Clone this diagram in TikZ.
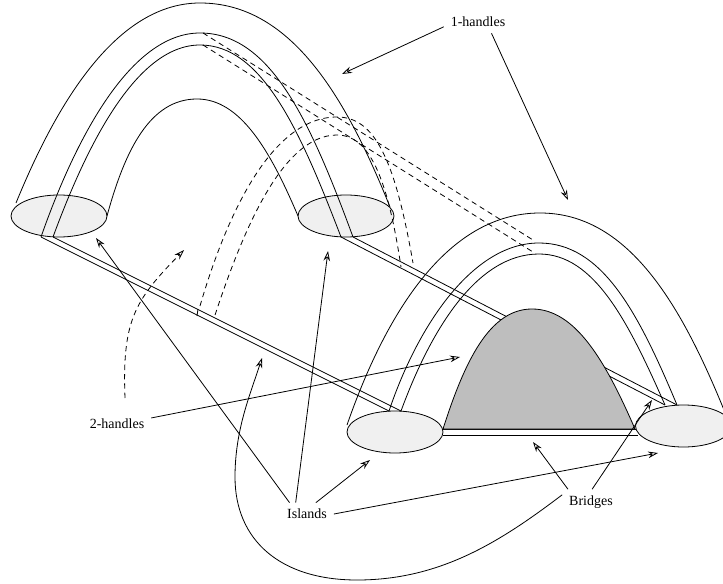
\documentclass[tikz,border=0pt]{standalone}
\usepackage{fontspec}
\setmainfont{Liberation Serif}
\usetikzlibrary{arrows.meta,shapes.geometric}
\definecolor{islandgray}{RGB}{240,240,240}
\definecolor{handlegray}{RGB}{190,190,190}

\begin{document}
\begin{tikzpicture}[
  x=0.75pt, y=-0.75pt, line width=0.6pt,
  font=\fontsize{10.5}{12}\selectfont,
  island/.style={draw, ellipse, fill=islandgray, inner sep=0pt, outer sep=0pt,
                 minimum width=72pt, minimum height=31.5pt},
  label/.style={inner xsep=5pt, inner ysep=4.5pt},
  hidden/.style={dashed, dash pattern=on 4pt off 3pt},
  arrow/.style={-{Stealth[open, length=7.5pt, width=5pt, inset=2.5pt]}}
]
\useasboundingbox (0,0) rectangle (723,584);

\node[island] (islandA) at (59,216) {};
\node[island] (islandB) at (346,216) {};
\node[island] (islandC) at (395,432) {};
\node[island] (islandD) at (683.5,426) {};

\draw (16,203) .. controls (50,120) and (110,3) .. (200,3)
  .. controls (290,3) and (345,95) .. (390,207);
\draw (107,216) .. controls (125,150) and (150,99) .. (197,99)
  .. controls (240,99) and (270,150) .. (298,216);
\draw (41,237) .. controls (75,140) and (130,33) .. (200,33)
  .. controls (270,33) and (310,120) .. (353,237);
\draw (53,237) .. controls (85,150) and (135,45) .. (200,45)
  .. controls (262,45) and (300,130) .. (341,237);

\draw (347,425) .. controls (380,330) and (440,213) .. (540,213)
  .. controls (627,213) and (680,302) .. (724,410);
\draw (389,411) .. controls (418,325) and (473,243) .. (539,243)
  .. controls (602,243) and (638,312) .. (677,405);
\draw (401,411) .. controls (430,332) and (476,254) .. (539,254)
  .. controls (594,254) and (628,321) .. (665,405);

\draw (41,237) -- (389,411);
\draw (53,237) -- (401,411);
\draw (341,237) -- (665,405);
\draw (353,237) -- (677,405);
\draw (443,429) -- (636,429);
\draw (443,435) -- (638,435);
\draw (198,309) -- (197,316);

\draw[hidden] (203,33) -- (533,240);
\draw[hidden] (203,45) -- (533,252);
\draw[hidden] (200,306) .. controls (225,220) and (270,117) .. (337,117)
  .. controls (375,117) and (395,160) .. (413,263);
\draw[hidden] (215,315) .. controls (240,240) and (280,135) .. (337,135)
  .. controls (370,135) and (388,180) .. (401,267);

\draw[fill=handlegray] (443,429) .. controls (465,360) and (490,309) .. (532,309)
  .. controls (575,309) and (605,360) .. (635,429) -- cycle;

\node[label] (oneHandles) at (478,22) {1-handles};
\node[label] (twoHandles) at (117,424) {2-handles};
\node[label] (islands) at (307,514) {Islands};
\node[label] (bridges) at (591,502) {Bridges};

\coordinate (tipOneA) at (342,74);
\coordinate (tipOneB) at (568,200);
\coordinate (tipTwoA) at (460,357);
\coordinate (tipTwoB) at (184,250);
\coordinate (tipIslA) at (96,238);
\coordinate (tipIslB) at (328,251);
\coordinate (tipIslC) at (370,460);
\coordinate (tipIslD) at (658,453);
\coordinate (tipBriA) at (533,442);
\coordinate (tipBriB) at (652,400);
\coordinate (tipBriC) at (262,358);

\draw[arrow] (oneHandles.188) -- (tipOneA);
\draw[arrow] (oneHandles.-40) -- (tipOneB);
\draw[arrow] (twoHandles.10) -- (tipTwoA);
\draw[arrow, hidden] (125,398) .. controls (122,320) and (135,300) .. (tipTwoB);
\foreach \a/\t in {147/tipIslA,135/tipIslB,52/tipIslC,0/tipIslD} {
  \draw[arrow] (islands.\a) -- (\t);
}
\draw[arrow] (bridges.151) -- (tipBriA);
\draw[arrow] (bridges.85) -- (tipBriB);
\draw[arrow] (bridges.166) .. controls (500,542) and (440,580) .. (357,580)
  .. controls (280,580) and (235,540) .. (235,477)
  .. controls (235,430) and (250,395) .. (tipBriC);
\end{tikzpicture}
\end{document}
